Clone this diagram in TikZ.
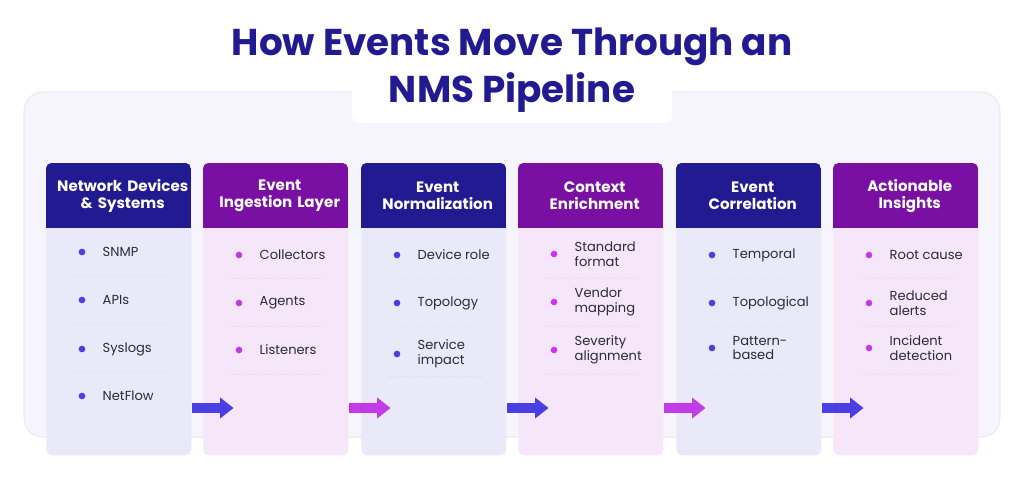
\documentclass[tikz,border=0pt]{standalone}
\usepackage{fontspec}
\setmainfont{Poppins}
\usetikzlibrary{arrows.meta, positioning}
\definecolor{navy}{HTML}{221A91}
\definecolor{plum}{HTML}{7A0FA3}
\definecolor{paleblue}{HTML}{EAE9FA}
\definecolor{palepink}{HTML}{F6E6FA}
\definecolor{arrblue}{HTML}{4B3FE3}
\definecolor{arrpink}{HTML}{C23BE6}
\definecolor{ink}{HTML}{2B2B3A}
\tikzset{
  card/.style = {rounded corners=4, minimum width=108.75pt, minimum height=219pt, anchor=north west, draw=none},
  head/.style = {anchor=north west, minimum width=108.75pt, minimum height=48.75pt, text=white, font=\bfseries\fontsize{11.3}{13}\selectfont, align=center, text width=108pt},
  item/.style = {anchor=west, text=ink, font=\fontsize{9.8}{11}\selectfont, align=left},
  icon/.style = {circle, inner sep=0pt, minimum size=5pt},
  sep/.style  = {dotted, draw=black!15},
  flow/.style = {-{Triangle[length=10pt, width=15pt]}, line width=7pt}
}
\begin{document}
\begin{tikzpicture}[x=0.75pt, y=-0.75pt]
  \useasboundingbox (0,0) rectangle (1024,482);
  \fill[white] (0,0) rectangle (1024,482);
  % backdrop
  \draw[draw=black!12, fill=paleblue!45, rounded corners=14] (24,92) rectangle (1000,437);
  \fill[white, rounded corners=6] (352,78) rectangle (672,123);
  \node (title) at (512,70) [text=navy, font=\bfseries\fontsize{28}{35}\selectfont, align=center] {How Events Move Through an\\NMS Pipeline};

  % cards
  \foreach \Name/\X/\Col/\Bg/\Text in {%
      c1/46/navy/paleblue/{Network Devices\\\& Systems},
      c2/203/plum/palepink/{Event\\Ingestion Layer},
      c3/361/navy/paleblue/{Event\\Normalization},
      c4/518/plum/palepink/{Context\\Enrichment},
      c5/676/navy/paleblue/{Event\\Correlation},
      c6/833/plum/palepink/{Actionable\\Insights}%
  }{
    \node[card, fill=\Bg] (\Name) at (\X,163) {};
    \begin{scope}
      \clip[rounded corners=4] (\X,163) rectangle (\X+145,455);
      \fill[\Col] (\X,163) rectangle (\X+145,228);
    \end{scope}
    \node[head] (\Name h) at (\X,163) {\Text};
  }

  % items
  \foreach \Card/\Y/\Col/\Text in {%
      c1/252/arrblue/SNMP, c1/300/arrblue/APIs, c1/349/arrblue/Syslogs, c1/396/arrblue/NetFlow,
      c2/255/arrpink/Collectors, c2/303/arrpink/Agents, c2/350/arrpink/Listeners,
      c3/255/arrblue/Device role, c3/303/arrblue/Topology, c3/354/arrblue/{Service\\impact},
      c4/254/arrpink/{Standard\\format}, c4/302/arrpink/{Vendor\\mapping}, c4/350/arrpink/{Severity\\alignment},
      c5/255/arrblue/Temporal, c5/303/arrblue/Topological, c5/348/arrblue/{Pattern-\\based},
      c6/255/arrpink/Root cause, c6/303/arrpink/{Reduced\\alerts}, c6/348/arrpink/{Incident\\detection}%
  }{
    \path (\Card.north west) ++(36,\Y-163) coordinate (p);
    \node[icon, fill=\Col] at (p) {};
    \node[item] at ([xshift=12pt]p) {\Text};
  }
  \foreach \Card/\Y in {c1/276, c1/324, c1/372, c2/278, c2/326, c2/374,
      c3/278, c3/326, c3/376, c4/278, c4/326, c4/374, c5/278, c5/326, c5/374,
      c6/278, c6/326, c6/374}{
    \path (\Card.north west) ++(26,\Y-163) coordinate (s);
    \draw[sep] (s) -- ++(94,0);
  }

  % flow arrows
  \foreach \From/\Col in {c1/arrblue, c2/arrpink, c3/arrblue, c4/arrpink, c5/arrblue}{
    \path (\From.north east) ++(0,245) coordinate (a);
    \draw[flow, draw=\Col] (a) -- ++(42,0);
  }
\end{tikzpicture}
\end{document}
